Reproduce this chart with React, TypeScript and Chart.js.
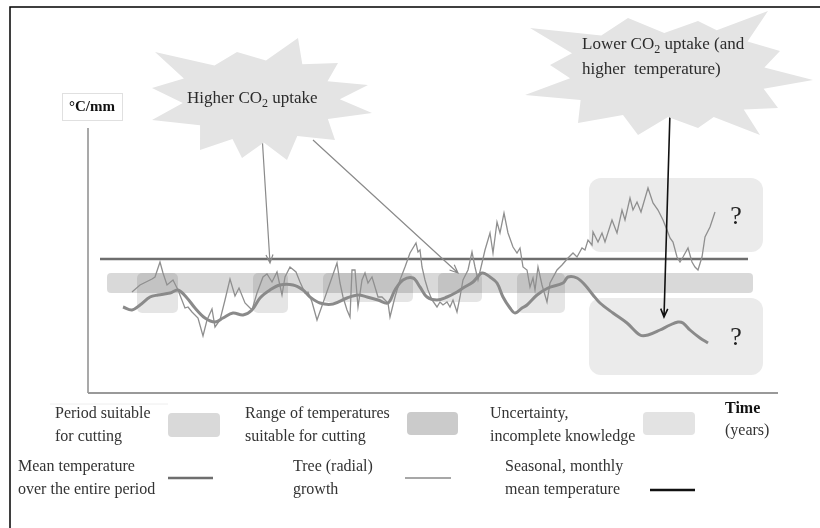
import React, { useEffect, useRef } from "react";
import { Chart, registerables } from "chart.js";
Chart.register(...registerables);

// ---- data (time units 0..690, value units 0..265) ----
const treeGrowth: [number, number][] = [
  [44,101],[52,108],[64,114],[67,116],[72,131],[75,120],[79,108],[85,113],[90,103],[97,85],
  [100,86],[104,81],[110,75],[115,57],[119,73],[124,84],[127,66],[132,73],[137,93],[142,114],
  [147,97],[151,105],[157,90],[164,83],[169,100],[175,116],[179,119],[184,111],[189,121],[194,98],
  [197,116],[202,126],[208,121],[212,111],[217,100],[220,101],[224,91],[229,73],[235,90],[242,110],
  [249,130],[252,110],[255,96],[259,83],[262,76],[264,123],[267,123],[270,86],[274,113],[277,120],
  [280,110],[284,116],[287,106],[290,96],[294,96],[297,93],[300,90],[302,76],[307,96],[312,113],
  [317,126],[322,140],[328,150],[330,141],[332,143],[334,126],[337,113],[340,103],[344,93],[349,86],
  [352,91],[355,88],[359,91],[362,86],[365,93],[369,81],[372,96],[375,113],[380,123],[384,141],
  [387,126],[390,113],[394,130],[397,143],[402,160],[405,140],[409,171],[412,160],[416,180],[420,160],
  [425,146],[429,140],[432,145],[435,126],[439,123],[442,106],[445,115],[447,103],[450,126],[454,108],
  [459,91],[462,110],[469,123],[474,128],[480,135],[485,140],[489,136],[494,145],[497,143],[500,153],
  [504,148],[505,161],[510,151],[514,160],[517,151],[524,173],[529,160],[534,183],[537,173],[542,195],
  [545,183],[549,191],[553,181],[560,205],[565,190],[570,183],[575,173],[579,163],[582,155],[585,151],
  [589,136],[592,131],[595,136],[600,145],[604,131],[607,126],[610,123],[614,136],[617,156],[622,166],
  [627,181],
];
const seasonalTemp: [number, number][] = [
  [35,86],[44,83],[52,88],[62,96],[70,98],[82,100],[90,103],[99,95],[107,85],[117,75],
  [127,71],[135,75],[145,80],[155,78],[164,83],[172,95],[182,103],[192,108],[205,108],[215,103],
  [222,96],[232,90],[245,89],[259,95],[270,98],[279,96],[290,93],[300,90],[307,103],[315,113],
  [325,115],[332,106],[339,96],[349,93],[359,96],[369,101],[375,105],[385,111],[394,120],[402,116],
  [409,110],[415,96],[422,85],[427,80],[434,85],[439,88],[449,98],[460,105],[475,110],[480,116],
  [489,115],[497,108],[505,98],[512,90],[525,80],[539,70],[552,58],[560,58],[572,63],[582,68],
  [590,71],[595,70],[602,63],[612,55],[620,50],
];
const meanLevel = 134;
const meanSpan = [12, 660];
const bandSpan = [19, 665];
const bandLevels = [100, 120];
// [start, end, lowest level] of periods suitable for cutting (top = band top)
const cuttingPeriods: [number, number, number][] = [
  [49, 90, 80], [165, 200, 80], [235, 325, 91], [350, 394, 91], [429, 477, 80],
];
// [start, end, low, high]
const uncertaintyAreas: [number, number, number, number][] = [
  [501, 675, 141, 215], [501, 675, 18, 95],
];
const questionMarks: [number, number][] = [[648, 176], [648, 55]];
// [fromX, fromY, toX, toY, colour, width]
const arrows: [number, number, number, number, string, number][] = [
  [174, 258, 182, 130, "#8a8a8a", 1.2],
  [225, 253, 370, 120, "#8a8a8a", 1.2],
  [582, 281, 576, 76, "#111111", 1.6],
];

const SERIF = "'Liberation Serif', 'Times New Roman', serif";

function rr(ctx: CanvasRenderingContext2D, x: number, y: number, w: number, h: number, r: number) {
  ctx.beginPath();
  (ctx as any).roundRect(x, y, w, h, r);
}

function star(ctx: CanvasRenderingContext2D, cx: number, cy: number, tips: number[][], k: number) {
  ctx.beginPath();
  tips.forEach((t, i) => {
    const n = tips[(i + 1) % tips.length];
    const mx = ((t[0] + n[0]) / 2) * k;
    const my = ((t[1] + n[1]) / 2) * k;
    if (i === 0) ctx.moveTo(cx + t[0], cy + t[1]);
    else ctx.lineTo(cx + t[0], cy + t[1]);
    ctx.lineTo(cx + mx, cy + my);
  });
  ctx.closePath();
  ctx.fillStyle = "#e4e4e4";
  ctx.fill();
}

function subText(ctx: CanvasRenderingContext2D, parts: [string, boolean][], x: number, y: number, size: number) {
  let cx = x;
  ctx.textBaseline = "middle";
  ctx.textAlign = "left";
  for (const [s, sub] of parts) {
    ctx.font = `${sub ? Math.round(size * 0.68) : size}px ${SERIF}`;
    ctx.fillText(s, cx, sub ? y + size * 0.3 : y);
    cx += ctx.measureText(s).width;
  }
}

const star1Tips = [[36,-62],[76,-37],[106,-15],[110,13],[73,40],[25,60],[-20,58],[-62,50],[-110,20],[-110,-12],[-107,-48],[-25,-48]];
const star2Tips = [[-138,-45],[-40,-55],[30,-52],[100,-62],[112,-22],[145,7],[110,35],[92,62],[30,55],[-30,62],[-90,50],[-143,22],[-118,-8]];

const diagramPlugin = {
  id: "diagram",
  beforeDatasetsDraw(chart: any) {
    const ctx: CanvasRenderingContext2D = chart.ctx;
    const xs = chart.scales.x, ys = chart.scales.y;
    const X = (v: number) => xs.getPixelForValue(v);
    const Y = (v: number) => ys.getPixelForValue(v);
    const a = chart.chartArea;
    ctx.save();
    ctx.strokeStyle = "#8c8c8c";
    ctx.lineWidth = 1.5;
    ctx.beginPath();
    ctx.moveTo(a.left, a.top);
    ctx.lineTo(a.left, a.bottom);
    ctx.stroke();
    ctx.lineWidth = 2;
    ctx.strokeStyle = "#999";
    ctx.beginPath();
    ctx.moveTo(a.left, a.bottom);
    ctx.lineTo(a.right, a.bottom);
    ctx.stroke();
    ctx.fillStyle = "#ebebeb";
    for (const [s, e, lo, hi] of uncertaintyAreas) {
      rr(ctx, X(s), Y(hi), X(e) - X(s), Y(lo) - Y(hi), 12);
      ctx.fill();
    }
    ctx.fillStyle = "rgba(0,0,0,0.15)";
    rr(ctx, X(bandSpan[0]), Y(bandLevels[1]), X(bandSpan[1]) - X(bandSpan[0]), Y(bandLevels[0]) - Y(bandLevels[1]), 4);
    ctx.fill();
    ctx.fillStyle = "rgba(0,0,0,0.1)";
    for (const [s, e, lo] of cuttingPeriods) {
      rr(ctx, X(s), Y(bandLevels[1]), X(e) - X(s), Y(lo) - Y(bandLevels[1]), 5);
      ctx.fill();
    }
    ctx.restore();
  },
  afterDatasetsDraw(chart: any) {
    const ctx: CanvasRenderingContext2D = chart.ctx;
    const xs = chart.scales.x, ys = chart.scales.y;
    const X = (v: number) => xs.getPixelForValue(v);
    const Y = (v: number) => ys.getPixelForValue(v);
    ctx.save();
    for (const [fx, fy, tx, ty, col, w] of arrows) {
      const x1 = X(fx), y1 = Y(fy), x2 = X(tx), y2 = Y(ty);
      ctx.strokeStyle = col;
      ctx.lineWidth = w;
      ctx.beginPath();
      ctx.moveTo(x1, y1);
      ctx.lineTo(x2, y2);
      const ang = Math.atan2(y2 - y1, x2 - x1);
      const L = 9;
      ctx.moveTo(x2 - L * Math.cos(ang - 0.4), y2 - L * Math.sin(ang - 0.4));
      ctx.lineTo(x2, y2);
      ctx.lineTo(x2 - L * Math.cos(ang + 0.4), y2 - L * Math.sin(ang + 0.4));
      ctx.stroke();
    }
    ctx.fillStyle = "#222";
    ctx.font = `26px ${SERIF}`;
    ctx.textAlign = "center";
    ctx.textBaseline = "middle";
    for (const [qx, qy] of questionMarks) ctx.fillText("?", X(qx), Y(qy));
    ctx.restore();
  },
  afterDraw(chart: any) {
    const ctx: CanvasRenderingContext2D = chart.ctx;
    ctx.save();
    ctx.strokeStyle = "#000";
    ctx.lineWidth = 1.5;
    ctx.beginPath();
    ctx.moveTo(10, 528);
    ctx.lineTo(10, 7);
    ctx.lineTo(820, 7);
    ctx.stroke();
    star(ctx, 262, 100, star1Tips, 0.72);
    star(ctx, 668, 73, star2Tips, 0.75);
    ctx.fillStyle = "#2b2b2b";
    subText(ctx, [["Higher CO", false], ["2", true], [" uptake", false]], 187, 99, 17);
    subText(ctx, [["Lower CO", false], ["2", true], [" uptake (and", false]], 582, 45, 17);
    subText(ctx, [["higher  temperature)", false]], 582, 70, 17);
    ctx.fillStyle = "#fff";
    ctx.fillRect(62, 93, 60, 27);
    ctx.strokeStyle = "#e0e0e0";
    ctx.lineWidth = 1;
    ctx.strokeRect(62.5, 93.5, 60, 27);
    ctx.fillStyle = "#111";
    ctx.font = `bold 15px ${SERIF}`;
    ctx.textAlign = "center";
    ctx.textBaseline = "middle";
    ctx.fillText("°C/mm", 92, 107);
    ctx.strokeStyle = "#eeeeee";
    ctx.beginPath();
    ctx.moveTo(50, 404);
    ctx.lineTo(168, 404);
    ctx.stroke();
    ctx.fillStyle = "#333";
    ctx.textAlign = "left";
    ctx.font = `16px ${SERIF}`;
    const txt = (s: string, x: number, y: number) => ctx.fillText(s, x, y);
    txt("Period suitable", 55, 414);
    txt("for cutting", 55, 437);
    txt("Range of temperatures", 245, 414);
    txt("suitable for cutting", 245, 437);
    txt("Uncertainty,", 490, 414);
    txt("incomplete knowledge", 490, 437);
    txt("(years)", 725, 431);
    txt("Mean temperature", 18, 467);
    txt("over the entire period", 18, 490);
    txt("Tree (radial)", 293, 467);
    txt("growth", 293, 490);
    txt("Seasonal, monthly", 505, 467);
    txt("mean temperature", 505, 490);
    ctx.font = `bold 16px ${SERIF}`;
    ctx.fillStyle = "#111";
    txt("Time", 725, 409);
    ctx.fillStyle = "#d9d9d9";
    rr(ctx, 168, 413, 52, 24, 4); ctx.fill();
    ctx.fillStyle = "#cbcbcb";
    rr(ctx, 407, 412, 51, 23, 4); ctx.fill();
    ctx.fillStyle = "#e3e3e3";
    rr(ctx, 643, 412, 52, 23, 4); ctx.fill();
    ctx.lineWidth = 2.5;
    ctx.strokeStyle = "#6e6e6e";
    ctx.beginPath(); ctx.moveTo(168, 478); ctx.lineTo(213, 478); ctx.stroke();
    ctx.lineWidth = 1.5;
    ctx.strokeStyle = "#8a8a8a";
    ctx.beginPath(); ctx.moveTo(405, 478); ctx.lineTo(451, 478); ctx.stroke();
    ctx.lineWidth = 2.5;
    ctx.strokeStyle = "#111";
    ctx.beginPath(); ctx.moveTo(650, 490); ctx.lineTo(695, 490); ctx.stroke();
    ctx.restore();
  },
};

export default function App() {
  const ref = useRef<HTMLCanvasElement>(null);
  useEffect(() => {
    const canvas = ref.current!;
    const chart = new Chart(canvas, {
      type: "line",
      data: {
        datasets: [
          {
            label: "Seasonal, monthly mean temperature",
            data: seasonalTemp.map(([x, y]) => ({ x, y })),
            borderColor: "#8a8a8a",
            borderWidth: 3,
            pointRadius: 0,
            tension: 0.35,
            fill: false,
          },
          {
            label: "Tree (radial) growth",
            data: treeGrowth.map(([x, y]) => ({ x, y })),
            borderColor: "#8f8f8f",
            borderWidth: 1.3,
            pointRadius: 0,
            tension: 0,
            fill: false,
          },
          {
            label: "Mean temperature over the entire period",
            data: [{ x: meanSpan[0], y: meanLevel }, { x: meanSpan[1], y: meanLevel }],
            borderColor: "#6e6e6e",
            borderWidth: 2.5,
            pointRadius: 0,
            fill: false,
          },
        ],
      },
      options: {
        responsive: false,
        animation: false,
        devicePixelRatio: 1,
        layout: { padding: { left: 88, right: 42, top: 128, bottom: 135 } },
        scales: {
          x: { type: "linear", min: 0, max: 690, display: false },
          y: { type: "linear", min: 0, max: 265, display: false },
        },
        plugins: { legend: { display: false }, tooltip: { enabled: false } },
      },
      plugins: [diagramPlugin],
    } as any);
    return () => chart.destroy();
  }, []);
  return (
    <div style={{ position: "absolute", left: 0, top: 0, width: 820, height: 528, background: "#fff" }}>
      <canvas ref={ref} width={820} height={528} style={{ display: "block" }} />
    </div>
  );
}
